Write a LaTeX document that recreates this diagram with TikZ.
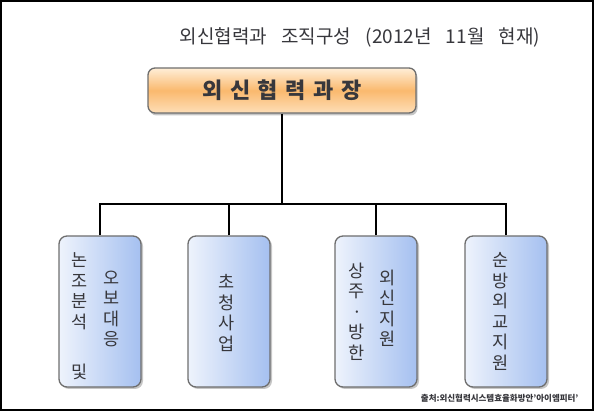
\documentclass[tikz,border=0pt]{standalone}
\usepackage{fontspec}
\setmainfont{Noto Sans CJK KR}
\usetikzlibrary{shadows}
\definecolor{framegray}{RGB}{110,110,110}
\definecolor{peach}{RGB}{255,238,215}
\definecolor{orng}{RGB}{250,185,110}
\definecolor{paleblue}{RGB}{238,243,252}
\definecolor{skyblue}{RGB}{165,192,240}
\definecolor{inkgray}{RGB}{55,55,60}

\begin{document}
\begin{tikzpicture}[x=1pt,y=1pt]
  \useasboundingbox (0,0) rectangle (594,411);
  \draw[line width=2pt] (1,1) rectangle (593,410);

  \tikzstyle{boss}=[draw=framegray,line width=1.3pt,rounded corners=7pt,
    top color=peach,bottom color=peach!70!orng,middle color=orng,
    minimum width=268pt,minimum height=45pt,text=inkgray,
    font=\fontsize{22}{24}\selectfont\bfseries,
    drop shadow={opacity=0.45,shadow xshift=1.5pt,shadow yshift=-2.5pt}]
  \tikzstyle{team}=[draw=framegray,line width=1.3pt,rounded corners=8pt,
    left color=paleblue,right color=skyblue,
    minimum width=82pt,minimum height=151pt,
    drop shadow={opacity=0.45,shadow xshift=2pt,shadow yshift=-2pt}]
  \tikzstyle{col}=[inner sep=0pt,anchor=north,align=center,text=inkgray,
    font=\fontsize{17.5}{20.5}\selectfont]
  \tikzstyle{link}=[line width=1.5pt]

  \node[text=inkgray,font=\fontsize{19}{21}\selectfont] (title) at (360,374)
    {외신협력과\hspace{10pt} 조직구성\hspace{10pt} (2012년\hspace{10pt} 11월\hspace{10pt} 현재)};

  \node[boss] (chief) at (282,320.5)
    {외\hspace{7.5pt}신\hspace{7.5pt}협\hspace{7.5pt}력\hspace{7.5pt}과\hspace{7.5pt}장};

  \node[team] (t1) at (100,99.5) {};
  \node[team] (t2) at (229,99.5) {};
  \node[team] (t3) at (376,99.5) {};
  \node[team] (t4) at (506,99.5) {};

  \node[col] (t1r) at (112,140.5) {오\\보\\대\\응};
  \node[col] (t1l) at (80,158.5) {논\\조\\분\\석\\[30pt]및};
  \node[col] (t2c) at (227,136.5) {초\\청\\사\\업};
  \node[col] (t3r) at (388,141.5) {외\\신\\지\\원};
  \node[col] (t3l) at (357,148.5) {상\\주\\·\\방\\한};
  \node[col] (t4c) at (501,158.5) {순\\방\\외\\교\\지\\원};

  \coordinate (bus) at (284,207);
  \draw[link] (chief.south) -- (chief.south |- bus);
  \foreach \t in {t1,t2,t3,t4}
    \draw[link] (\t.north) |- (bus);

  \node[font=\fontsize{8.5}{10}\selectfont\bfseries,text=inkgray,anchor=south east] (src)
    at (582,5) {출처:외신협력시스템효율화방안'아이엠피터'};
\end{tikzpicture}
\end{document}
